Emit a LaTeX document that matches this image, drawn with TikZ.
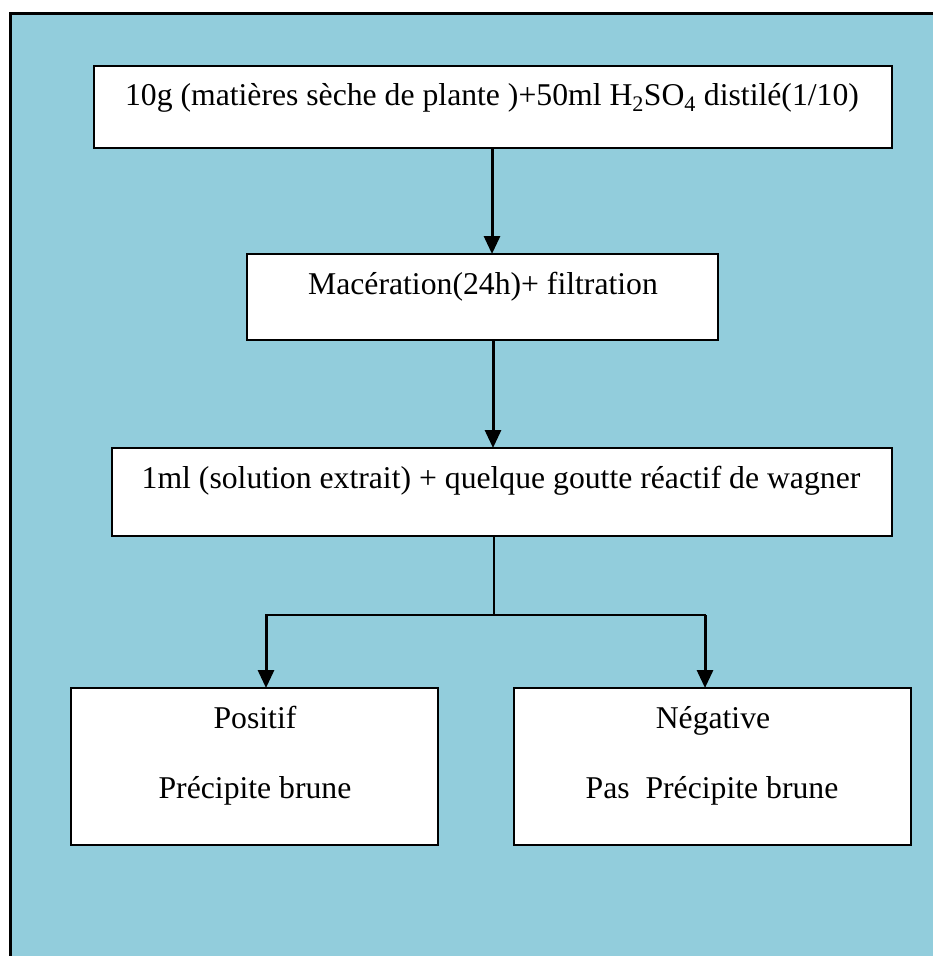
\documentclass[tikz,border=0pt]{standalone}
\usepackage{fontspec}
\setmainfont{Liberation Serif}
\usetikzlibrary{arrows.meta}
\definecolor{bgblue}{RGB}{146,205,220}
\begin{document}
\begin{tikzpicture}[x=1pt,y=-1pt,
  box/.style={draw=black,line width=2.6pt,fill=white,anchor=north west,inner sep=0pt,outer sep=0pt},
  txt/.style={anchor=base,inner sep=0pt,font=\fontsize{31.7}{36}\selectfont},
  conn/.style={draw=black,line width=3pt},
  arr/.style={conn,-{Triangle[width=16pt,length=18pt]}}]
\useasboundingbox (0,0) rectangle (933,956);
\fill[bgblue] (10,13) rectangle (945,970);
\draw[line width=3pt] (10,970) -- (10,13) -- (945,13);
% boxes
\node[box,minimum width=798pt,minimum height=82pt] (b1) at (94,66) {};
\node[box,minimum width=471pt,minimum height=86pt] (b2) at (247,254) {};
\node[box,minimum width=780pt,minimum height=88pt] (b3) at (112,448) {};
\node[box,minimum width=367pt,minimum height=157pt] (b4) at (71,688) {};
\node[box,minimum width=397pt,minimum height=157pt] (b5) at (514,688) {};
% texts
\node[txt] (t1) at (492,105) {10g (matières sèche de plante )+50ml H\textsubscript{2}SO\textsubscript{4} distilé(1/10)};
\node[txt] (t2) at (483,294) {Macération(24h)+ filtration};
\node[txt] (t3) at (501,488) {1ml (solution extrait) + quelque goutte réactif de wagner};
\node[txt] (t4a) at (255,728) {Positif};
\node[txt] (t4b) at (255,798) {Précipite brune};
\node[txt] (t5a) at (713,728) {Négative};
\node[txt] (t5b) at (712,798) {Pas\ \ Précipite brune};
% connectors
\coordinate (s1) at (492,148);
\coordinate (e1) at (492,254);
\coordinate (s2) at (493,340);
\coordinate (e2) at (493,448);
\coordinate (s3) at (494,536);
\coordinate (j) at (494,615);
\coordinate (jl) at (266,615);
\coordinate (jr) at (705,615);
\coordinate (el) at (266,688);
\coordinate (er) at (705,688);
\draw[arr] (s1) -- (e1);
\draw[arr] (s2) -- (e2);
\draw[conn,line width=2.2pt] (s3) -- (j);
\draw[conn,line width=2.2pt,line cap=rect] (jl) -- (jr);
\draw[arr] (jl) -- (el);
\draw[arr] (jr) -- (er);
\end{tikzpicture}
\end{document}
